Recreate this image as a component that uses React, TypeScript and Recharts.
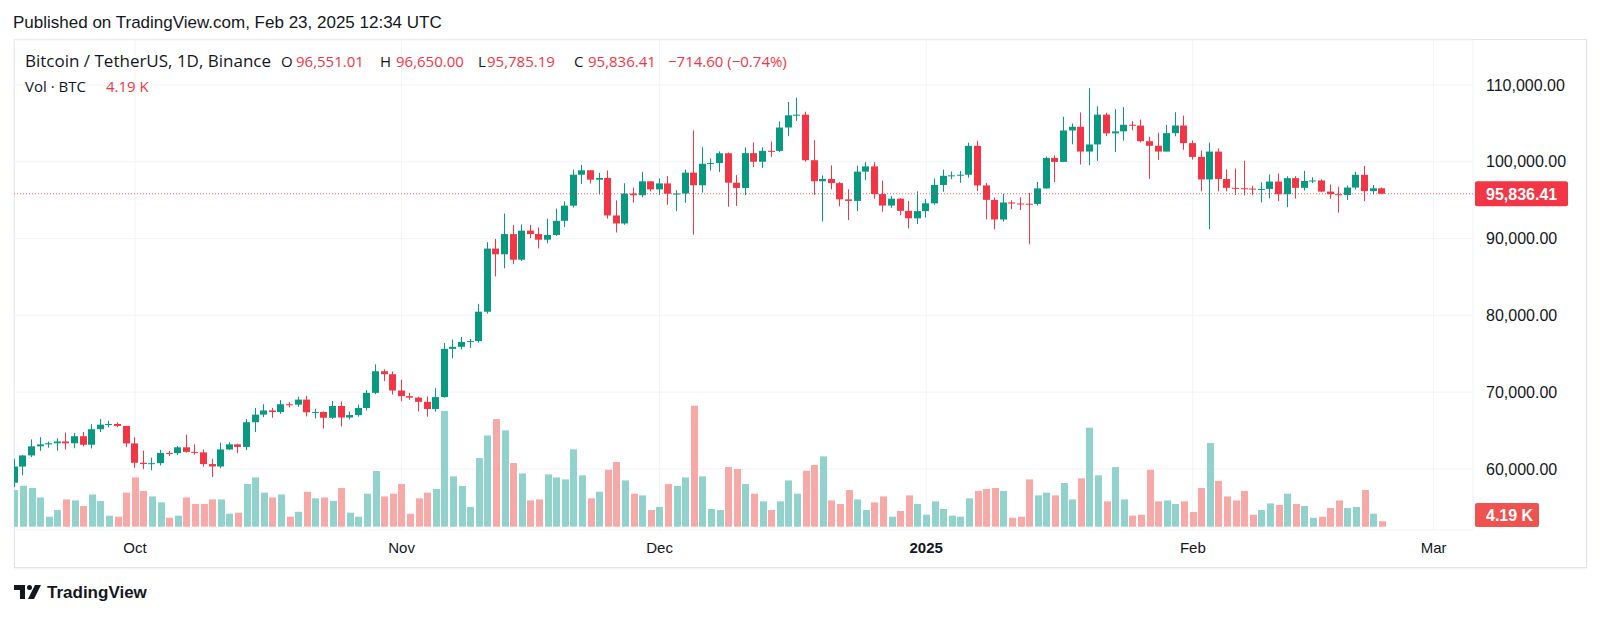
import { ComposedChart, Bar, XAxis, YAxis, CartesianGrid, ReferenceLine } from 'recharts';

// BTCUSDT daily, Sep 17 2024 .. Feb 23 2025 (Binance)
const opens = [
  58213, 60313, 61759, 62947, 63201, 63348, 63578, 63339, 64262, 63152, 65173, 65769, 65858, 65602,
  63327, 60805, 60649, 60752, 62086, 62058, 62819, 62224, 62160, 60636, 60326, 62540, 63206, 62870, 66083, 67074,
  67620, 67421, 68428, 68378, 69032, 67377, 67426, 66668, 68199, 66699, 67015, 67939, 69907, 72720, 72340,
  70215, 69482, 69289, 68742, 67811, 69359, 75639, 75905, 76538, 76650, 80475, 88701, 87955, 90584, 87250,
  91032, 90587, 89856, 90464, 92311, 94286, 98318, 98893, 97672, 97901, 93011, 91966, 95864, 95643, 97460,
  96408, 97185, 95840, 95865, 98587, 96945, 99740, 99831, 101109, 97276, 96593, 101125, 100004, 101424, 101420,
  104463, 106058, 106134, 100204, 97461, 97756, 97224, 95105, 94906, 98717, 99400, 95791, 94300, 95196, 93610, 92640,
  93577, 94591, 96985, 98174, 98237, 98315, 102078, 96922, 95043, 92484, 94701, 94566, 94545, 94516, 96534,
  100505, 99987, 104077, 104557, 101331, 102260, 106143, 103706, 103960, 104820, 104714, 102682, 102087, 101332, 103733, 104722,
  102429, 100635, 97700, 101328, 97763, 96612, 96554, 96506, 96444, 96462, 97430, 95778, 97869, 96608, 97500,
  97569, 96118, 95780, 95671, 96644, 98305, 96181, 96551.01,
];

const highs = [
  61320, 61786, 63850, 64133, 63559, 64000, 64745, 64688, 64817, 65839, 66498, 66260, 66076, 65618,
  64130, 62390, 61477, 62485, 62370, 62975, 64478, 63200, 62543, 61321, 63417, 63480, 63285, 66500, 67950, 68425,
  67939, 68969, 68694, 69400, 69520, 67836, 67472, 68850, 68800, 67454, 68380, 70270, 73620, 72962, 72700,
  71632, 69914, 69391, 69432, 70522, 76400, 76850, 77199, 76932, 81500, 89530, 89956, 93265, 91765, 91850,
  91779, 91449, 92594, 93905, 94831, 98988, 99588, 98893, 98564, 98871, 94973, 97208, 96650, 98693, 97464,
  97836, 98130, 96305, 99000, 104088, 101898, 100439, 101350, 101215, 98270, 101888, 102540, 101895, 102650, 105250,
  107793, 108353, 106524, 102800, 98233, 99540, 97360, 96416, 99487, 99963, 99963, 97544, 95525, 95250, 94903, 96150,
  95150, 97840, 98976, 98734, 98811, 102482, 102724, 97259, 95348, 95837, 94980, 95380, 95940, 97371, 100681,
  100850, 105865, 104988, 106422, 109588, 107240, 106394, 106850, 107120, 105286, 105500, 103260, 103783, 104800, 106457, 106012,
  102783, 101456, 102500, 101745, 99000, 99120, 100137, 96880, 97323, 98345, 98478, 98119, 98119, 98826, 97972,
  97725, 97046, 96753, 96899, 98711, 99475, 96980, 96650,
];

const lows = [
  57628, 59174, 61555, 62350, 62759, 62357, 62538, 62700, 62947, 62670, 64819, 65422, 65432, 62856,
  60164, 59981, 59828, 60459, 61689, 61798, 62128, 61860, 60301, 58946, 60087, 62487, 62050, 62457, 64800, 66750,
  66666, 67177, 68021, 68100, 66840, 66571, 65260, 66510, 65536, 66439, 66800, 67618, 69730, 71436, 69685,
  68820, 69000, 67478, 66803, 67458, 69299, 74417, 75556, 75773, 76460, 80216, 85072, 86127, 86668, 87073,
  90057, 88722, 89376, 90357, 91500, 94040, 97122, 97157, 95735, 92600, 90792, 91792, 94677, 95385, 96150,
  95693, 94395, 93578, 94660, 90500, 95981, 98844, 98657, 94150, 94256, 95658, 99311, 99205, 100609, 101237,
  103333, 105321, 100000, 95700, 92232, 96398, 94202, 92403, 93575, 97595, 95200, 93500, 94015, 93047, 91317, 91890,
  92743, 94400, 96100, 97735, 97250, 97926, 96182, 92500, 91202, 92206, 93835, 93710, 89256, 94310, 96500,
  97352, 99950, 102278, 99651, 99550, 100119, 103339, 101262, 102750, 104106, 102520, 97777, 100233, 101328, 103320, 101560,
  100279, 96150, 91231, 96150, 96155, 95676, 95620, 95688, 94713, 95256, 94876, 94088, 95217, 96252, 97223,
  96056, 95205, 93388, 95029, 96415, 94871, 95759, 95785.19,
];

const closes = [
  60313, 61759, 62947, 63201, 63348, 63578, 63339, 64262, 63152, 65173, 65769, 65858, 65602, 63327,
  60805, 60649, 60752, 62086, 62058, 62819, 62224, 62160, 60636, 60326, 62540, 63206, 62870, 66083, 67074, 67620,
  67421, 68428, 68378, 69032, 67377, 67426, 66668, 68199, 66699, 67015, 67939, 69907, 72720, 72340, 70215,
  69482, 69289, 68742, 67811, 69359, 75639, 75905, 76538, 76650, 80475, 88701, 87955, 90584, 87250, 91032,
  90587, 89856, 90464, 92311, 94286, 98318, 98893, 97672, 97901, 93011, 91966, 95864, 95643, 97460, 96408,
  97185, 95840, 95865, 98587, 96945, 99740, 99831, 101109, 97276, 96593, 101125, 100004, 101424, 101420, 104463,
  106058, 106134, 100204, 97461, 97756, 97224, 95105, 94906, 98717, 99400, 95791, 94300, 95196, 93610, 92640, 93577,
  94591, 96985, 98174, 98237, 98315, 102078, 96922, 95043, 92484, 94701, 94566, 94488, 94516, 96534, 100505,
  99987, 104077, 104557, 101331, 102260, 106143, 103706, 103960, 104820, 104714, 102682, 102087, 101332, 103733, 104722, 102429,
  100635, 97700, 101328, 97763, 96612, 96554, 96506, 96444, 96462, 97430, 95778, 97869, 96608, 97500, 97569,
  96118, 95780, 95671, 96644, 98305, 96181, 96551, 95836.41,
];

// volume in thousands of BTC
const volumes = [
  28.2, 31.5, 29.8, 22.5, 7.7, 12.8, 21.0, 20.2, 15.9, 24.8, 19.8, 8.5, 7.7, 26.2,
  37.9, 27.5, 23.3, 18.7, 6.9, 8.5, 22.5, 17.5, 17.5, 21.0, 21.0, 10.0, 10.8, 32.8, 37.9, 26.2,
  22.5, 24.8, 7.7, 11.5, 26.9, 21.8, 22.5, 19.8, 29.8, 10.8, 7.7, 25.4, 42.8, 23.3, 25.4,
  32.8, 10.0, 21.8, 26.2, 29.0, 89.0, 38.7, 31.3, 15.2, 52.8, 70.2, 82.8, 74.1, 49.0, 41.0,
  20.2, 21.0, 40.2, 37.9, 36.4, 59.5, 39.5, 21.8, 26.9, 43.8, 49.8, 35.6, 25.4, 24.1, 12.8,
  15.2, 32.8, 31.3, 37.9, 93.1, 38.7, 13.6, 12.8, 45.9, 44.4, 32.8, 25.4, 19.5, 12.8, 19.5,
  35.6, 25.4, 43.1, 47.5, 54.1, 20.2, 17.5, 28.2, 21.0, 12.8, 18.7, 23.3, 7.7, 12.1, 24.1, 17.5,
  9.2, 19.5, 13.6, 8.5, 7.7, 21.8, 27.5, 29.0, 29.8, 27.5, 6.9, 7.7, 36.4, 24.1, 26.2,
  24.1, 33.6, 21.0, 37.2, 76.2, 39.5, 19.5, 45.9, 21.0, 8.5, 9.2, 43.8, 19.5, 20.2, 17.5, 19.5,
  11.3, 29.8, 64.4, 35.2, 23.3, 20.2, 27.5, 9.2, 12.8, 17.9, 16.7, 25.4, 17.5, 15.9, 6.9,
  7.7, 14.4, 20.2, 14.4, 15.2, 28.2, 10.0, 4.19,
];

// bar index of the first day of each month (0 = Sep 17)
const monthTicks = [14, 45, 75, 106, 137, 165];
const monthLabels = ['Oct', 'Nov', 'Dec', '2025', 'Feb', 'Mar'];
const priceTicks = [60000, 70000, 80000, 90000, 100000, 110000];

const legendRow1 = [
  { x: 25, text: 'Bitcoin / TetherUS, 1D, Binance', red: false, size: 17 },
  { x: 281, text: 'O', red: false, size: 15 },
  { x: 296, text: '96,551.01', red: true, size: 15 },
  { x: 380, text: 'H', red: false, size: 15 },
  { x: 396, text: '96,650.00', red: true, size: 15 },
  { x: 478, text: 'L', red: false, size: 15 },
  { x: 487, text: '95,785.19', red: true, size: 15 },
  { x: 574, text: 'C', red: false, size: 15 },
  { x: 588, text: '95,836.41', red: true, size: 15 },
  { x: 668, text: '\u2212714.60 (\u22120.74%)', red: true, size: 15 },
];
const legendRow2 = [
  { x: 25, text: 'Vol \u00b7 BTC', red: false, size: 15 },
  { x: 106, text: '4.19 K', red: true, size: 15 },
];

const lastPrice = closes[closes.length - 1];
const lastVolume = volumes[volumes.length - 1];

const UP = '#089981';
const DOWN = '#f23645';
const VOL_UP = '#92d2cc';
const VOL_DOWN = '#f7a9a7';
const TEXT = '#131722';
const GRID = '#f0f3fa';
const FONT = '"Liberation Sans", Arial, sans-serif';
const LEGEND_FONT = '"Open Sans", "Liberation Sans", sans-serif';

const candles = opens.map((o, i) => ({
  i,
  open: o,
  high: highs[i],
  low: lows[i],
  close: closes[i],
  volume: volumes[i],
}));

const fmtPrice = (v: number) =>
  v.toLocaleString('en-US', { minimumFractionDigits: 2, maximumFractionDigits: 2 });

const CandleShape = (props: any) => {
  const { x, y, width, height, payload } = props;
  if (x == null || y == null || !payload) return null;
  const { open, close, high, low } = payload;
  const color = close >= open ? UP : DOWN;
  const cx = Math.floor(x + width / 2) + 0.5;
  const k = high === low ? 0 : height / (high - low);
  const top = y + (high - Math.max(open, close)) * k;
  const bottom = y + (high - Math.min(open, close)) * k;
  return (
    <g>
      <line x1={cx} x2={cx} y1={y} y2={y + height} stroke={color} strokeWidth={1} />
      <rect x={cx - 3.5} y={top} width={7} height={Math.max(1, bottom - top)} fill={color} />
    </g>
  );
};

const VolumeShape = (props: any) => {
  const { x, y, width, height, payload } = props;
  if (x == null || y == null || !payload) return null;
  const cx = Math.floor(x + width / 2) + 0.5;
  return (
    <rect
      x={cx - 3.5}
      y={y}
      width={7}
      height={Math.max(0, height)}
      fill={payload.close >= payload.open ? VOL_UP : VOL_DOWN}
    />
  );
};

const MonthTick = ({ x, y, payload }: any) => {
  const k = monthTicks.indexOf(payload.value);
  const label = monthLabels[k];
  return (
    <text
      x={x}
      y={y + 23}
      textAnchor="middle"
      fontSize={15}
      fontFamily={FONT}
      fontWeight={label === '2025' ? 700 : 400}
      fill={TEXT}
    >
      {label}
    </text>
  );
};

const PriceTag = (props: any) => {
  const vb = props.viewBox;
  if (!vb) return null;
  const x = vb.x + vb.width + 2;
  const cy = vb.y;
  return (
    <g>
      <rect x={x} y={cy - 12.5} width={93} height={25} rx={2} fill={DOWN} />
      <text x={x + 11} y={cy} dy="0.36em" fill="#fff" fontWeight={700} fontSize={16} fontFamily={FONT}>
        {fmtPrice(lastPrice)}
      </text>
    </g>
  );
};

const VolumeTag = (props: any) => {
  const vb = props.viewBox;
  if (!vb) return null;
  const x = vb.x + vb.width + 2;
  const top = Math.min(vb.y - 12, 527 - 24);
  return (
    <g>
      <rect x={x} y={top} width={64} height={24} rx={2} fill="#ef5350" />
      <text x={x + 11} y={top + 12} dy="0.36em" fill="#fff" fontWeight={700} fontSize={16} fontFamily={FONT}>
        {lastVolume.toFixed(2) + ' K'}
      </text>
    </g>
  );
};

export default function App() {
  return (
    <div style={{ position: 'relative', width: 1600, height: 618, background: '#fff', fontFamily: FONT, color: TEXT, overflow: 'hidden' }}>
      <style>{'body{margin:0}'}</style>
      <div style={{ position: 'absolute', left: 13, top: 12, fontSize: 17, lineHeight: '22px', whiteSpace: 'nowrap' }}>
        Published on TradingView.com, Feb 23, 2025 12:34 UTC
      </div>
      <div
        style={{
          position: 'absolute',
          left: 14,
          top: 39,
          width: 1571,
          height: 527,
          border: '1px solid #e0e3eb',
          boxShadow: '0 1px 2px rgba(0,0,0,0.06)',
        }}
      />
      <div style={{ position: 'absolute', left: 0, top: 0 }}>
        <ComposedChart width={1600} height={618} data={candles} margin={{ top: 40, right: 27, bottom: 58, left: 14 }}>
          <CartesianGrid xAxisId="x" yAxisId="price" stroke={GRID} />
          <XAxis
            xAxisId="x"
            type="number"
            dataKey="i"
            domain={[-0.07, 169.58]}
            allowDataOverflow
            ticks={monthTicks}
            interval={0}
            tick={<MonthTick />}
            tickLine={false}
            axisLine={false}
            tickSize={0}
            tickMargin={0}
            height={30}
          />
          <XAxis xAxisId="xv" type="number" dataKey="i" domain={[-0.07, 169.58]} allowDataOverflow hide />
          <YAxis
            yAxisId="price"
            orientation="right"
            width={100}
            domain={[52050, 115860]}
            allowDataOverflow
            ticks={priceTicks}
            interval={0}
            tickFormatter={fmtPrice}
            tick={{ fill: TEXT, fontSize: 16, fontFamily: FONT }}
            tickLine={false}
            axisLine={false}
            tickSize={0}
            tickMargin={13}
          />
          <YAxis yAxisId="vol" domain={[-2.54, 374.4]} allowDataOverflow hide />
          <Bar
            xAxisId="xv"
            yAxisId="vol"
            dataKey="volume"
            barSize={7}
            shape={VolumeShape}
            isAnimationActive={false}
          />
          <ReferenceLine
            xAxisId="x"
            yAxisId="price"
            y={lastPrice}
            stroke={DOWN}
            strokeOpacity={0.8}
            strokeDasharray="1 2"
            label={PriceTag}
          />
          <Bar
            xAxisId="x"
            yAxisId="price"
            dataKey={(d: any) => [d.low, d.high]}
            barSize={6}
            shape={CandleShape}
            isAnimationActive={false}
          />
          <ReferenceLine xAxisId="xv" yAxisId="vol" y={lastVolume} stroke="none" label={VolumeTag} />
        </ComposedChart>
      </div>
      {legendRow1.map((it) => (
        <div
          key={it.x}
          style={{
            position: 'absolute',
            left: it.x,
            top: 50,
            fontFamily: LEGEND_FONT,
            fontSize: it.size,
            lineHeight: '22px',
            whiteSpace: 'nowrap',
            color: it.red ? DOWN : TEXT,
          }}
        >
          {it.text}
        </div>
      ))}
      {legendRow2.map((it) => (
        <div
          key={it.x}
          style={{
            position: 'absolute',
            left: it.x,
            top: 75,
            fontFamily: LEGEND_FONT,
            fontSize: it.size,
            lineHeight: '22px',
            whiteSpace: 'nowrap',
            color: it.red ? DOWN : TEXT,
          }}
        >
          {it.text}
        </div>
      ))}
      <svg style={{ position: 'absolute', left: 0, top: 580 }} width={60} height={26}>
        <path d="M14 5 H25 V19 H20 V10 H14 Z" fill={TEXT} />
        <circle cx={29.5} cy={7.5} r={2.5} fill={TEXT} />
        <path d="M35 5 H41 L34 19 H28 Z" fill={TEXT} />
      </svg>
      <div style={{ position: 'absolute', left: 47, top: 582, fontSize: 17, lineHeight: '22px', fontWeight: 700, whiteSpace: 'nowrap' }}>
        TradingView
      </div>
    </div>
  );
}
